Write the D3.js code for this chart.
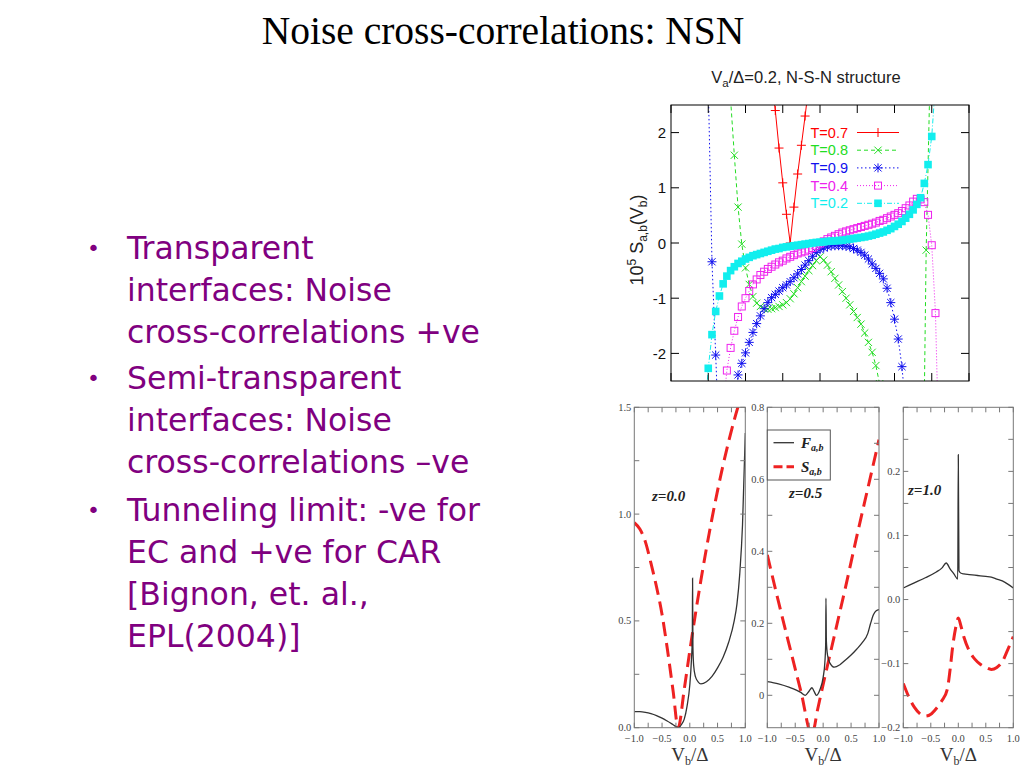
<!DOCTYPE html>
<html>
<head>
<meta charset="utf-8">
<script src="https://cdn.jsdelivr.net/npm/d3@7"></script>
<style>
  body { margin: 0; background: #fff; }
  svg { display: block; }
</style>
</head>
<body>
<svg id="slide" width="1024" height="768"></svg>
<script>
// ---- top chart data: 10^5 S_ab(V_b), Va/Delta = 0.2 ----
const seriesNames = ["T=0.7", "T=0.8", "T=0.9", "T=0.4", "T=0.2"];

const t07 = [[-0.26,3.0],[-0.24,2.40],[-0.22,1.72],[-0.20,1.09],[-0.18,0.52],[-0.16,0.0],[-0.14,0.65],
  [-0.12,1.25],[-0.10,1.77],[-0.08,2.30],[-0.06,2.85]];

const t08 = [[-0.48,2.6],[-0.46,1.59],[-0.44,0.65],[-0.42,-0.02],[-0.40,-0.45],[-0.38,-0.75],[-0.36,-0.97],
  [-0.34,-1.09],[-0.32,-1.15],[-0.30,-1.19],[-0.28,-1.20],[-0.26,-1.19],[-0.24,-1.17],[-0.22,-1.15],
  [-0.20,-1.12],[-0.18,-1.08],[-0.16,-1.01],[-0.14,-0.92],[-0.12,-0.81],[-0.10,-0.70],[-0.08,-0.60],
  [-0.06,-0.50],[-0.04,-0.41],[-0.02,-0.32],[0.00,-0.25],[0.02,-0.31],[0.04,-0.40],[0.06,-0.52],
  [0.08,-0.64],[0.10,-0.76],[0.12,-0.88],[0.14,-1.00],[0.16,-1.12],[0.18,-1.24],[0.20,-1.35],
  [0.22,-1.47],[0.24,-1.63],[0.26,-1.80],[0.28,-1.98],[0.30,-2.22],[0.32,-2.55],[0.34,-2.9],
  [0.55,-5.5],[0.57,-0.13],[0.59,2.9]];

const t09 = [[-0.60,2.9],[-0.58,-0.34],[-0.56,-2.03],[-0.54,-3.8],[-0.52,-5.0],[-0.50,-5.0],[-0.48,-4.2],
  [-0.46,-3.0],[-0.44,-2.39],[-0.42,-2.18],[-0.40,-1.99],[-0.38,-1.80],[-0.36,-1.62],[-0.34,-1.46],
  [-0.32,-1.32],[-0.30,-1.19],[-0.28,-1.08],[-0.26,-0.99],[-0.24,-0.93],[-0.22,-0.87],[-0.20,-0.81],
  [-0.18,-0.76],[-0.16,-0.70],[-0.14,-0.63],[-0.12,-0.56],[-0.10,-0.48],[-0.08,-0.40],[-0.06,-0.32],
  [-0.04,-0.24],[-0.02,-0.17],[0.00,-0.12],[0.02,-0.09],[0.04,-0.07],[0.06,-0.05],[0.08,-0.05],
  [0.10,-0.05],[0.12,-0.05],[0.14,-0.06],[0.16,-0.07],[0.18,-0.10],[0.20,-0.13],[0.22,-0.17],
  [0.24,-0.22],[0.26,-0.29],[0.28,-0.38],[0.30,-0.46],[0.32,-0.55],[0.34,-0.65],[0.36,-0.82],
  [0.38,-1.08],[0.40,-1.38],[0.42,-1.74],[0.44,-2.24],[0.46,-3.0]];

const t04 = [[-0.52,-3.0],[-0.50,-2.31],[-0.48,-1.90],[-0.46,-1.59],[-0.44,-1.34],[-0.42,-1.15],[-0.40,-1.00],
  [-0.38,-0.87],[-0.36,-0.75],[-0.34,-0.66],[-0.32,-0.58],[-0.30,-0.52],[-0.28,-0.47],[-0.26,-0.43],
  [-0.24,-0.39],[-0.22,-0.35],[-0.20,-0.32],[-0.18,-0.28],[-0.16,-0.25],[-0.14,-0.22],[-0.12,-0.19],
  [-0.10,-0.17],[-0.08,-0.15],[-0.06,-0.12],[-0.04,-0.09],[-0.02,-0.05],[0.00,-0.01],[0.02,0.03],
  [0.04,0.07],[0.06,0.10],[0.08,0.13],[0.10,0.16],[0.12,0.19],[0.14,0.21],[0.16,0.23],[0.18,0.25],
  [0.20,0.27],[0.22,0.29],[0.24,0.31],[0.26,0.33],[0.28,0.35],[0.30,0.37],[0.32,0.40],[0.34,0.42],
  [0.36,0.45],[0.38,0.48],[0.40,0.51],[0.42,0.54],[0.44,0.58],[0.46,0.63],[0.48,0.68],[0.50,0.75],
  [0.52,0.80],[0.54,0.79],[0.56,0.74],[0.58,0.51],[0.60,-0.04],[0.62,-1.27],[0.64,-4.0]];

const t02 = [[-0.62,-3.2],[-0.60,-2.27],[-0.58,-1.66],[-0.56,-1.24],[-0.54,-0.96],[-0.52,-0.74],[-0.50,-0.60],
  [-0.48,-0.50],[-0.46,-0.43],[-0.44,-0.37],[-0.42,-0.33],[-0.40,-0.29],[-0.38,-0.26],[-0.36,-0.23],
  [-0.34,-0.21],[-0.32,-0.19],[-0.30,-0.17],[-0.28,-0.15],[-0.26,-0.13],[-0.24,-0.11],[-0.22,-0.10],
  [-0.20,-0.08],[-0.18,-0.07],[-0.16,-0.06],[-0.14,-0.05],[-0.12,-0.04],[-0.10,-0.03],[-0.08,-0.02],
  [-0.06,-0.01],[-0.04,0.0],[-0.02,0.01],[0.00,0.015],[0.02,0.02],[0.04,0.03],[0.06,0.035],[0.08,0.04],
  [0.10,0.045],[0.12,0.05],[0.14,0.06],[0.16,0.07],[0.18,0.08],[0.20,0.09],[0.22,0.10],[0.24,0.11],
  [0.26,0.125],[0.28,0.14],[0.30,0.16],[0.32,0.18],[0.34,0.20],[0.36,0.23],[0.38,0.26],[0.40,0.30],
  [0.42,0.34],[0.44,0.39],[0.46,0.45],[0.48,0.52],[0.50,0.60],[0.52,0.70],[0.54,0.82],[0.56,1.08],
  [0.58,1.42],[0.60,1.93],[0.62,2.9]];

const topYTicks = [-2, -1, 0, 1, 2];
const topXTicks = [-0.8, -0.6, -0.4, -0.2, 0, 0.2, 0.4, 0.6, 0.8];

// ---- bottom panels: F_ab (solid) and S_ab (dashed) vs Vb/Delta ----
const panelNames = ["z=0.0", "z=0.5", "z=1.0"];
const xTickLabels = [-1.0, -0.5, 0.0, 0.5, 1.0];

const fabZ00 = [[-1,0.075],[-0.9,0.075],[-0.8,0.072],[-0.7,0.066],[-0.6,0.057],[-0.5,0.045],[-0.4,0.03],
  [-0.3,0.014],[-0.2,0.0],[-0.15,0.015],[-0.1,0.04],[-0.05,0.1],[0.0,0.2],[0.03,0.32],[0.045,0.42],
  [0.05,0.70],[0.056,0.38],[0.07,0.29],[0.1,0.24],[0.15,0.215],[0.2,0.205],[0.3,0.215],[0.4,0.24],
  [0.5,0.28],[0.6,0.33],[0.7,0.40],[0.8,0.5],[0.85,0.58],[0.9,0.72],[0.95,0.95],[1.0,1.38]];
const sabZ00 = [[-1,0.96],[-0.9,0.93],[-0.8,0.87],[-0.7,0.77],[-0.6,0.66],[-0.5,0.53],[-0.4,0.36],
  [-0.3,0.17],[-0.21,0.0],[-0.1,0.18],[0.0,0.36],[0.1,0.53],[0.2,0.69],[0.3,0.84],[0.4,0.98],
  [0.5,1.11],[0.6,1.23],[0.7,1.34],[0.8,1.44],[0.9,1.53]];

const fabZ05 = [[-1,0.038],[-0.8,0.032],[-0.6,0.022],[-0.4,0.008],[-0.32,0.0],[-0.25,0.012],[-0.2,0.021],
  [-0.16,0.01],[-0.12,0.0],[-0.06,0.015],[0.0,0.05],[0.03,0.09],[0.045,0.14],[0.05,0.27],[0.058,0.15],
  [0.08,0.11],[0.12,0.09],[0.2,0.078],[0.3,0.085],[0.4,0.098],[0.5,0.112],[0.6,0.128],[0.7,0.146],
  [0.8,0.172],[0.85,0.2],[0.9,0.224],[0.95,0.235],[1.0,0.238]];
const sabZ05 = [[-1,0.39],[-0.8,0.26],[-0.6,0.135],[-0.4,0.012],[-0.2,-0.11],[-0.1,-0.04],[0.0,0.03],
  [0.2,0.165],[0.4,0.30],[0.6,0.44],[0.8,0.575],[1.0,0.71]];

const fabZ10 = [[-1,0.018],[-0.8,0.026],[-0.6,0.034],[-0.4,0.043],[-0.3,0.049],[-0.22,0.057],[-0.15,0.048],
  [-0.08,0.04],[-0.01,0.032],[0.0,0.226],[0.012,0.045],[0.05,0.041],[0.1,0.04],[0.2,0.039],[0.3,0.038],
  [0.4,0.037],[0.5,0.036],[0.6,0.035],[0.7,0.032],[0.8,0.029],[0.9,0.024],[1.0,0.018]];
const sabZ10 = [[-1,-0.131],[-0.9,-0.152],[-0.8,-0.168],[-0.7,-0.178],[-0.6,-0.182],[-0.5,-0.179],
  [-0.4,-0.170],[-0.3,-0.158],[-0.2,-0.14],[-0.15,-0.11],[-0.1,-0.072],[-0.05,-0.045],[0.0,-0.029],
  [0.05,-0.042],[0.1,-0.058],[0.2,-0.08],[0.3,-0.093],[0.4,-0.101],[0.5,-0.106],[0.6,-0.109],
  [0.7,-0.106],[0.8,-0.097],[0.9,-0.078],[1.0,-0.058]];

const yTicksZ00 = [0.0, 0.5, 1.0, 1.5];
const yTicksZ05 = [0, 0.2, 0.4, 0.6, 0.8];
const yTicksZ10 = [-0.2, -0.1, 0.0, 0.1, 0.2];

// ---- slide text ----
const slideTitle = "Noise cross-correlations: NSN";
const bulletLines = [
  ["Transparent", "interfaces: Noise", "cross-correlations +ve"],
  ["Semi-transparent", "interfaces: Noise", "cross-correlations \u2013ve"],
  ["Tunneling limit: -ve for", "EC and +ve for CAR", "[Bignon, et. al.,", "EPL(2004)]"]
];

const svg = d3.select("#slide");

// title
svg.append("text")
  .attr("x", 503).attr("y", 44)
  .attr("text-anchor", "middle")
  .attr("font-family", "Liberation Serif, Times New Roman, serif")
  .attr("font-size", 39.5)
  .text(slideTitle);

// bullets
const bulletColor = "#800080";
const bulletBase = [259, 389, 521];
bulletLines.forEach((lines, i) => {
  svg.append("text")
    .attr("x", 87).attr("y", bulletBase[i] - 3)
    .attr("font-family", "DejaVu Sans, sans-serif")
    .attr("font-size", 22)
    .attr("fill", bulletColor)
    .text("\u2022");
  lines.forEach((ln, j) => {
    svg.append("text")
      .attr("x", 127).attr("y", bulletBase[i] + j * 42)
      .attr("font-family", "DejaVu Sans, sans-serif")
      .attr("font-size", 31.5)
      .attr("fill", bulletColor)
      .text(ln);
  });
});

// ================= top chart =================
const topX = d3.scaleLinear().domain([-0.8, 0.8]).range([671, 969]);
const topY = d3.scaleLinear().domain([-2.5, 2.5]).range([381, 105]);

const topColors = ["#ff0000", "#22dd22", "#1010ee", "#ee22ee", "#11eeee"];
const topDash = [null, "4,3", "1.5,2.5", "1,2", "5,2,1,2"];
const topData = [t07, t08, t09, t04, t02];

svg.append("clipPath").attr("id", "topClip")
  .append("rect").attr("x", 671).attr("y", 105).attr("width", 298).attr("height", 276);

const topG = svg.append("g");

// marker shapes
function drawMarker(g, kind, x, y, color) {
  const h = 3.6;
  if (kind === 0) {
    g.append("path").attr("d", `M${x - 4.5},${y}H${x + 4.5}M${x},${y - 4.5}V${y + 4.5}`)
      .attr("stroke", color).attr("stroke-width", 1).attr("fill", "none");
  } else if (kind === 1) {
    g.append("path").attr("d", `M${x - h},${y - h}L${x + h},${y + h}M${x - h},${y + h}L${x + h},${y - h}`)
      .attr("stroke", color).attr("stroke-width", 1).attr("fill", "none");
  } else if (kind === 2) {
    g.append("path").attr("d", `M${x - 4.5},${y}H${x + 4.5}M${x},${y - 4.5}V${y + 4.5}` +
        `M${x - h},${y - h}L${x + h},${y + h}M${x - h},${y + h}L${x + h},${y - h}`)
      .attr("stroke", color).attr("stroke-width", 1).attr("fill", "none");
  } else if (kind === 3) {
    g.append("rect").attr("x", x - 3.5).attr("y", y - 3.5).attr("width", 7).attr("height", 7)
      .attr("stroke", color).attr("stroke-width", 1).attr("fill", "none");
  } else {
    g.append("rect").attr("x", x - 3.8).attr("y", y - 3.8).attr("width", 7.6).attr("height", 7.6)
      .attr("fill", color);
  }
}

const plotG = topG.append("g").attr("clip-path", "url(#topClip)");
const topLine = d3.line().x(d => topX(d[0])).y(d => topY(d[1]));

topData.forEach((data, i) => {
  const g = plotG.append("g");
  g.append("path").datum(data)
    .attr("d", topLine)
    .attr("fill", "none")
    .attr("stroke", topColors[i])
    .attr("stroke-width", 1)
    .attr("stroke-dasharray", topDash[i]);
  data.forEach(d => drawMarker(g, i, topX(d[0]), topY(d[1]), topColors[i]));
});

// frame and ticks
topG.append("rect").attr("x", 671).attr("y", 105).attr("width", 298).attr("height", 276)
  .attr("fill", "none").attr("stroke", "#000").attr("stroke-width", 1);
topYTicks.forEach(v => {
  const y = topY(v);
  topG.append("path").attr("d", `M671,${y}h8M969,${y}h-8`).attr("stroke", "#000");
  topG.append("text").attr("x", 666).attr("y", y)
    .attr("text-anchor", "end").attr("dominant-baseline", "central")
    .attr("font-family", "Liberation Sans, Arial, sans-serif").attr("font-size", 15)
    .attr("fill", "#111")
    .text(v);
});
topXTicks.forEach(v => {
  const x = topX(v);
  topG.append("path").attr("d", `M${x},381v-8M${x},105v8`).attr("stroke", "#000");
});

// legend
seriesNames.forEach((name, i) => {
  const y = 132.5 + i * 17.7;
  topG.append("text").attr("x", 848).attr("y", y)
    .attr("text-anchor", "end").attr("dominant-baseline", "central")
    .attr("font-family", "Liberation Sans, Arial, sans-serif").attr("font-size", 14.5)
    .attr("fill", topColors[i])
    .text(name);
  topG.append("path").attr("d", `M857,${y}H899`)
    .attr("stroke", topColors[i]).attr("stroke-dasharray", topDash[i]);
  drawMarker(topG, i, 878, y, topColors[i]);
});

// chart title and y label
const sans = "Liberation Sans, Arial, sans-serif";
const ttl = svg.append("text").attr("x", 806).attr("y", 83).attr("text-anchor", "middle")
  .attr("font-family", sans).attr("font-size", 16.5).attr("fill", "#222");
ttl.append("tspan").text("V");
ttl.append("tspan").attr("font-size", 11.5).attr("dy", 4).text("a");
ttl.append("tspan").attr("dy", -4).text("/\u0394=0.2, N-S-N structure");

const yl = svg.append("text").attr("transform", "translate(643,240) rotate(-90)")
  .attr("text-anchor", "middle").attr("font-family", sans).attr("font-size", 18).attr("fill", "#222");
yl.append("tspan").text("10");
yl.append("tspan").attr("font-size", 12).attr("dy", -7).text("5");
yl.append("tspan").attr("dy", 7).text(" S");
yl.append("tspan").attr("font-size", 12).attr("dy", 4).text("a,b");
yl.append("tspan").attr("dy", -4).text("(V");
yl.append("tspan").attr("font-size", 12).attr("dy", 4).text("b");
yl.append("tspan").attr("dy", -4).text(")");

// ================= bottom panels =================
const serif = "Liberation Serif, Times New Roman, serif";
const panels = [
  { x0: 634.3, x1: 745.3, yDom: [0, 1.5], ticks: yTicksZ00, minor: 0.25, fmt: d3.format(".1f"),
    fab: fabZ00, sab: sabZ00, label: [652, 501] },
  { x0: 767.3, x1: 879, yDom: [-0.09, 0.8], ticks: yTicksZ05, minor: 0.1, fmt: v => v === 0 ? "0" : d3.format(".1f")(v),
    fab: fabZ05, sab: sabZ05, label: [789, 498] },
  { x0: 903.3, x1: 1013.3, yDom: [-0.2, 0.3], ticks: yTicksZ10, minor: 0.05, fmt: d3.format(".1f"),
    fab: fabZ10, sab: sabZ10, label: [908, 495] }
];
const pTop = 407.3, pBot = 727.7;
const frameGray = "#777";

panels.forEach((p, k) => {
  const x = d3.scaleLinear().domain([-1, 1]).range([p.x0, p.x1]);
  const y = d3.scaleLinear().domain(p.yDom).range([pBot, pTop]);
  const g = svg.append("g");

  g.append("clipPath").attr("id", "pc" + k)
    .append("rect").attr("x", p.x0).attr("y", pTop).attr("width", p.x1 - p.x0).attr("height", pBot - pTop);

  const line = d3.line().x(d => x(d[0])).y(d => y(d[1])).curve(d3.curveMonotoneX);
  const cg = g.append("g").attr("clip-path", `url(#pc${k})`);
  cg.append("path").datum(p.sab).attr("d", line)
    .attr("fill", "none").attr("stroke", "#ee2222").attr("stroke-width", 3)
    .attr("stroke-dasharray", "14,7");
  cg.append("path").datum(p.fab).attr("d", line)
    .attr("fill", "none").attr("stroke", "#333").attr("stroke-width", 1.3);

  g.append("rect").attr("x", p.x0).attr("y", pTop).attr("width", p.x1 - p.x0).attr("height", pBot - pTop)
    .attr("fill", "none").attr("stroke", frameGray).attr("stroke-width", 1);

  // minor ticks on all four sides
  const yMinorAll = d3.range(Math.ceil(p.yDom[0] / p.minor - 1e-9), Math.floor(p.yDom[1] / p.minor + 1e-9) + 1)
    .map(i => i * p.minor);
  yMinorAll.forEach(v => {
    const yy = y(v);
    g.append("path").attr("d", `M${p.x0},${yy}h5M${p.x1},${yy}h-5`).attr("stroke", frameGray);
  });
  d3.range(-4, 5).map(i => i * 0.25).forEach(v => {
    const xx = x(v);
    g.append("path").attr("d", `M${xx},${pTop}v5M${xx},${pBot}v-5`).attr("stroke", frameGray);
  });

  p.ticks.forEach(v => {
    g.append("text").attr("x", p.x0 - 3).attr("y", y(v))
      .attr("text-anchor", "end").attr("dominant-baseline", "central")
      .attr("font-family", serif).attr("font-size", 10.5).attr("fill", "#444")
      .text(p.fmt(v));
  });
  xTickLabels.forEach(v => {
    g.append("text").attr("x", x(v)).attr("y", 742)
      .attr("text-anchor", "middle")
      .attr("font-family", serif).attr("font-size", 10.5).attr("fill", "#444")
      .text(d3.format(".1f")(v));
  });

  const xt = g.append("text").attr("x", (p.x0 + p.x1) / 2).attr("y", 761)
    .attr("text-anchor", "middle").attr("font-family", serif).attr("font-size", 19).attr("fill", "#333");
  xt.append("tspan").text("V");
  xt.append("tspan").attr("font-size", 12).attr("dy", 4).text("b");
  xt.append("tspan").attr("dy", -4).text("/\u0394");

  g.append("text").attr("x", p.label[0]).attr("y", p.label[1])
    .attr("font-family", serif).attr("font-size", 15).attr("font-style", "italic").attr("font-weight", "bold")
    .attr("fill", "#222")
    .text(panelNames[k]);
});

// legend box in middle panel
const lg = svg.append("g");
lg.append("rect").attr("x", 767.3).attr("y", 430).attr("width", 63).attr("height", 50)
  .attr("fill", "#fff").attr("stroke", "#555").attr("stroke-width", 1);
lg.append("path").attr("d", "M773.5,442.7H794").attr("stroke", "#333").attr("stroke-width", 1.3);
lg.append("path").attr("d", "M773.5,466.7H794").attr("stroke", "#ee2222").attr("stroke-width", 3)
  .attr("stroke-dasharray", "9,4");
[["F", 447.5], ["S", 471.5]].forEach(([s, yy]) => {
  const t = lg.append("text").attr("x", 801).attr("y", yy)
    .attr("font-family", serif).attr("font-size", 15).attr("font-style", "italic").attr("font-weight", "bold")
    .attr("fill", "#222");
  t.append("tspan").text(s);
  t.append("tspan").attr("font-size", 10).attr("dy", 3).text("a,b");
});
</script>
</body>
</html>
